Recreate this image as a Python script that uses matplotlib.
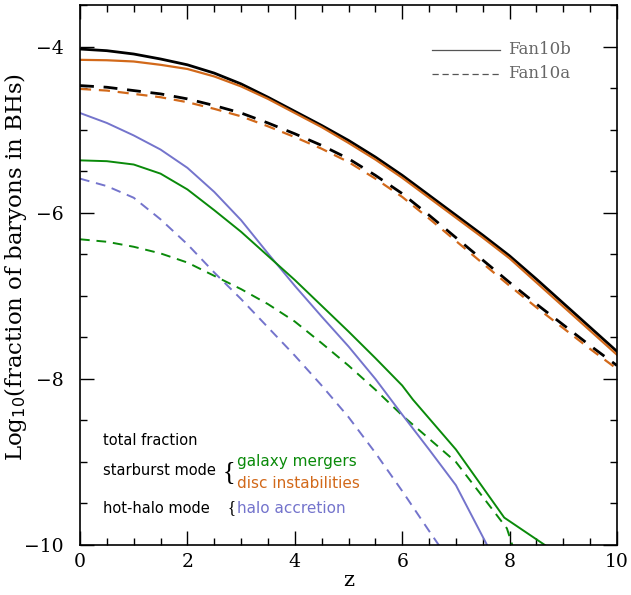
import numpy as np
import matplotlib
matplotlib.use('Agg')
import matplotlib.pyplot as plt
from matplotlib.ticker import MultipleLocator

# Fan10b = solid, Fan10a = dashed
z_tot = [0, 0.5, 1, 1.5, 2, 2.5, 3, 3.5, 4, 4.5, 5, 5.5, 6, 6.5, 7, 7.5, 8, 8.5, 9, 9.5, 10]
tot_b = [-4.03, -4.05, -4.09, -4.15, -4.22, -4.32, -4.45, -4.61, -4.78, -4.95, -5.13,
         -5.33, -5.55, -5.79, -6.03, -6.27, -6.52, -6.80, -7.09, -7.38, -7.67]
disc_b = [-4.16, -4.165, -4.18, -4.22, -4.27, -4.36, -4.48, -4.63, -4.80, -4.97, -5.16,
          -5.36, -5.58, -5.82, -6.06, -6.30, -6.55, -6.84, -7.13, -7.42, -7.71]
tot_a = [-4.47, -4.49, -4.53, -4.57, -4.63, -4.71, -4.80, -4.92, -5.05, -5.19, -5.35,
         -5.55, -5.77, -6.03, -6.30, -6.57, -6.84, -7.10, -7.35, -7.60, -7.84]
disc_a = [-4.51, -4.53, -4.57, -4.61, -4.67, -4.75, -4.84, -4.96, -5.09, -5.23, -5.39,
          -5.59, -5.81, -6.07, -6.34, -6.61, -6.88, -7.14, -7.39, -7.64, -7.88]

z_mrg_b = [0, 0.5, 1, 1.5, 2, 2.5, 3, 3.5, 4, 4.5, 5, 5.5, 6, 6.2, 7, 7.9, 9]
mrg_b = [-5.37, -5.38, -5.42, -5.53, -5.72, -5.97, -6.23, -6.52, -6.81, -7.12, -7.43,
         -7.75, -8.08, -8.25, -8.85, -9.67, -10.15]
z_mrg_a = [0, 0.5, 1, 1.5, 2, 2.5, 3, 3.5, 4, 4.5, 5, 5.5, 6, 6.5, 7, 7.5, 7.95, 8.3]
mrg_a = [-6.32, -6.35, -6.41, -6.49, -6.60, -6.76, -6.92, -7.10, -7.31, -7.57, -7.84,
         -8.13, -8.44, -8.72, -9.00, -9.42, -9.80, -10.5]

z_halo_b = [0, 0.5, 1, 1.5, 2, 2.5, 3, 3.5, 4, 4.5, 5, 5.5, 6, 6.5, 7, 7.58, 8]
halo_b = [-4.80, -4.92, -5.07, -5.24, -5.46, -5.75, -6.09, -6.49, -6.88, -7.25, -7.61,
          -8.00, -8.43, -8.85, -9.28, -10.0, -10.5]
z_halo_a = [0, 0.5, 1, 1.5, 2, 2.5, 3, 3.5, 4, 4.5, 5, 5.5, 6, 6.5, 7]
halo_a = [-5.59, -5.68, -5.82, -6.08, -6.38, -6.72, -7.04, -7.38, -7.72, -8.08, -8.46,
          -8.89, -9.35, -9.83, -10.3]

c_disc = '#d2691a'
c_mrg = '#0a8a0a'
c_halo = '#7474cc'
dash = (0, (5, 3.5))

fig = plt.figure(figsize=(6.31, 5.95), dpi=100)
ax = fig.add_axes([0.1268, 0.084, 0.851, 0.9076])

ax.plot(z_halo_a, halo_a, color=c_halo, lw=1.4, ls=dash)
ax.plot(z_mrg_a, mrg_a, color=c_mrg, lw=1.4, ls=dash)
ax.plot(z_tot, tot_a, color='black', lw=2.0, ls=dash)
ax.plot(z_tot, disc_a, color=c_disc, lw=1.6, ls=dash)
ax.plot(z_halo_b, halo_b, color=c_halo, lw=1.4)
ax.plot(z_mrg_b, mrg_b, color=c_mrg, lw=1.4)
ax.plot(z_tot, tot_b, color='black', lw=2.0)
ax.plot(z_tot, disc_b, color=c_disc, lw=1.6)

ax.set_xlim(0, 10)
ax.set_ylim(-10, -3.5)
ax.xaxis.set_major_locator(MultipleLocator(2))
ax.xaxis.set_minor_locator(MultipleLocator(0.5))
ax.yaxis.set_major_locator(MultipleLocator(2))
ax.yaxis.set_minor_locator(MultipleLocator(0.5))
ax.tick_params(which='both', direction='in', top=True, right=True, width=1.0)
ax.tick_params(which='major', length=10, labelsize=13.5, pad=6)
ax.tick_params(axis='y', which='major', pad=12)
ax.tick_params(which='minor', length=5)
for lab in ax.get_xticklabels() + ax.get_yticklabels():
    lab.set_family('DejaVu Serif')
for sp in ax.spines.values():
    sp.set_linewidth(1.2)

ax.set_xlabel('z', family='DejaVu Serif', fontsize=15, labelpad=0)
ax.set_ylabel(r'Log$_{10}$(fraction of baryons in BHs)', family='DejaVu Serif',
              fontsize=16.5)
ax.yaxis.set_label_coords(-0.095, 0.515)

# legend for the two models
ax.plot([6.55, 7.82], [-4.04, -4.04], color='#555555', lw=0.9)
ax.plot([6.55, 7.82], [-4.33, -4.33], color='#555555', lw=0.9, ls=(0, (5, 3)))
ax.text(7.97, -4.04, 'Fan10b', color='#666666', family='DejaVu Serif',
        fontsize=12, va='center')
ax.text(7.97, -4.33, 'Fan10a', color='#666666', family='DejaVu Serif',
        fontsize=12, va='center')

# component key, bottom left
fs = 10.5
ax.text(0.43, -8.74, 'total fraction', fontsize=fs, va='center', color='black')
ax.text(0.43, -9.10, 'starburst mode', fontsize=fs, va='center', color='black')
ax.text(0.43, -9.56, 'hot-halo mode', fontsize=fs, va='center', color='black')
ax.text(2.90, -9.12, '{', fontsize=19, va='center', ha='right', color='black',
        family='Liberation Serif')
ax.text(2.90, -9.55, '{', fontsize=12, va='center', ha='right', color='black',
        family='Liberation Serif')
ax.text(2.92, -8.99, 'galaxy mergers', fontsize=11, va='center', color=c_mrg)
ax.text(2.92, -9.26, 'disc instabilities', fontsize=11, va='center', color=c_disc)
ax.text(2.92, -9.56, 'halo accretion', fontsize=11, va='center', color=c_halo)

fig.savefig('out.png', dpi=100)
